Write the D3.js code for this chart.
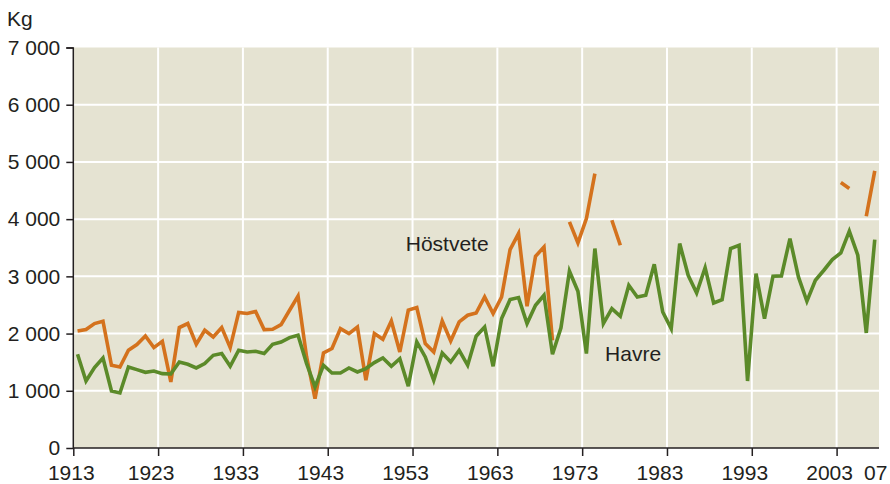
<!DOCTYPE html>
<html>
<head>
<meta charset="utf-8">
<script src="https://cdn.jsdelivr.net/npm/d3@7"></script>
<style>
  body { margin: 0; background: #fff; }
  svg { font-family: "Liberation Sans", Arial, sans-serif; }
  .axis path, .axis line { stroke: #231f20; stroke-width: 1.5; }
  .axis text { font-size: 21px; fill: #231f20; font-family: "Liberation Sans", Arial, sans-serif; }
  .grid line { stroke: #fff; stroke-width: 2; }
  .line { fill: none; stroke-width: 3.6; }
</style>
</head>
<body>
<svg width="890" height="484"></svg>
<script>
// arsvarden, kg per hektar
var years = d3.range(1913, 2008);

var havre = [
  1638, 1171, 1405, 1573, 997, 962, 1416, 1370, 1323, 1346,      // 1913-1922
  1300, 1294, 1503, 1463, 1399, 1475, 1620, 1650, 1428, 1708,    // 1923-1932
  1678, 1690, 1650, 1813, 1853, 1930, 1970, 1480, 1067, 1446,    // 1933-1942
  1311, 1311, 1399, 1329, 1388, 1493, 1573, 1428, 1562, 1080,    // 1943-1952
  1853, 1591, 1184, 1661, 1503, 1708, 1446, 1953, 2115, 1428,    // 1953-1962
  2262, 2594, 2629, 2175, 2495, 2670, 1638, 2100, 3090, 2740,    // 1963-1972
  1650, 3486, 2175, 2437, 2302, 2844, 2640, 2670, 3211, 2378,    // 1973-1982
  2087, 3573, 3019, 2710, 3150, 2535, 2594, 3486, 3544, 1171,    // 1983-1992
  3049, 2262, 3002, 3008, 3661, 2990, 2565, 2932, 3107, 3294,    // 1993-2002
  3409, 3789, 3369, 2011, 3643                                   // 2003-2007
];

var hostvete = [
  2045, 2070, 2175, 2215, 1446, 1416, 1708, 1807, 1958, 1755,    // 1913-1922
  1865, 1154, 2105, 2175, 1813, 2058, 1940, 2105, 1755, 2370,    // 1923-1932
  2350, 2385, 2070, 2075, 2157, 2407, 2657, 1600, 864, 1661,     // 1933-1942
  1738, 2087, 2000, 2115, 1184, 2000, 1900, 2220, 1678, 2410,    // 1943-1952
  2455, 1825, 1678, 2220, 1871, 2203, 2320, 2360, 2640, 2350,    // 1953-1962
  2640, 3468, 3748, 2477, 3351, 3514, 1880, null, 3951, 3584,    // 1963-1972
  4010, 4797, null, 3981, 3544, null, null, null, null, null,    // 1973-1982
  null, null, null, null, null, null, null, null, null, null,    // 1983-1992
  null, null, null, null, null, null, null, null, null, null,    // 1993-2002
  4640, 4535, null, 4050, 4843                                   // 2003-2007
];

var yTicks = [0, 1000, 2000, 3000, 4000, 5000, 6000, 7000];
var xTicks = [1913, 1923, 1933, 1943, 1953, 1963, 1973, 1983, 1993, 2003];
var xLabels = ["1913", "1923", "1933", "1943", "1953", "1963", "1973", "1983", "1993", "2003", "07"];

function dibujar() {
  var svg = d3.select("svg"),
    margin = {top: 47.5, right: 11, bottom: 36, left: 73.3},
    width = svg.attr("width") - margin.left - margin.right,
    height = svg.attr("height") - margin.top - margin.bottom,
    g = svg.append("g").attr("transform", "translate(" + margin.left + "," + margin.top + ")");

  var x = d3.scaleLinear().domain([1913, 2008]).range([0, width]),
    y = d3.scaleLinear().domain([0, 7000]).range([height, 0]);

  var fmt = function(d) { return d3.format(",")(d).replace(",", " "); };

  g.append("rect")
    .attr("width", width)
    .attr("height", height)
    .attr("fill", "#e5e3d2");

  // rutnat
  g.append("g")
    .attr("class", "grid")
    .selectAll("line")
    .data(yTicks.slice(1, -1))
    .enter().append("line")
    .attr("x1", 0).attr("x2", width)
    .attr("y1", function(d) { return y(d); })
    .attr("y2", function(d) { return y(d); });

  g.append("g")
    .attr("class", "grid")
    .selectAll("line")
    .data(xTicks.slice(1))
    .enter().append("line")
    .attr("y1", 0).attr("y2", height)
    .attr("x1", function(d) { return x(d); })
    .attr("x2", function(d) { return x(d); });

  var line = function(serie) {
    return d3.line()
      .defined(function(d, i) { return serie[i] != null; })
      .x(function(d) { return x(d + 0.5); })
      .y(function(d, i) { return y(serie[i]); })(years);
  };

  g.append("path")
    .attr("class", "line")
    .attr("stroke", "#d4721d")
    .attr("d", line(hostvete));

  g.append("path")
    .attr("class", "line")
    .attr("stroke", "#5b8a29")
    .attr("d", line(havre));

  // axlar
  g.append("g")
    .attr("class", "axis axis--y")
    .call(d3.axisLeft(y).tickValues(yTicks).tickSize(7).tickPadding(6).tickFormat(fmt))
    .call(function(a) { a.select(".domain").attr("d", "M-7,0.5H0V" + height); });

  var xa = g.append("g")
    .attr("class", "axis axis--x")
    .attr("transform", "translate(0," + height + ")")
    .call(d3.axisBottom(x).tickValues(xTicks).tickSize(8).tickFormat(""))
    .call(function(a) { a.select(".domain").attr("d", "M0,0H" + width); });

  xa.selectAll(".lbl")
    .data(xLabels)
    .enter().append("text")
    .attr("class", "lbl")
    .attr("text-anchor", "middle")
    .attr("y", 32)
    .attr("x", function(d, i) {
      if (i == 0) return x(xTicks[0]) - 2;
      if (i >= xTicks.length) return x(2007.5) + 1;
      return x(xTicks[i]) - 7;
    })
    .text(function(d) { return d; });

  svg.append("text")
    .attr("x", 7)
    .attr("y", 26)
    .style("font-size", "21px")
    .attr("fill", "#231f20")
    .text("Kg");

  g.append("text")
    .attr("x", x(1952.2))
    .attr("y", y(3450))
    .style("font-size", "21px")
    .attr("fill", "#231f20")
    .text("Höstvete");

  g.append("text")
    .attr("x", x(1975.7))
    .attr("y", y(1520))
    .style("font-size", "21px")
    .attr("fill", "#231f20")
    .text("Havre");
}

dibujar();
</script>
</body>
</html>
